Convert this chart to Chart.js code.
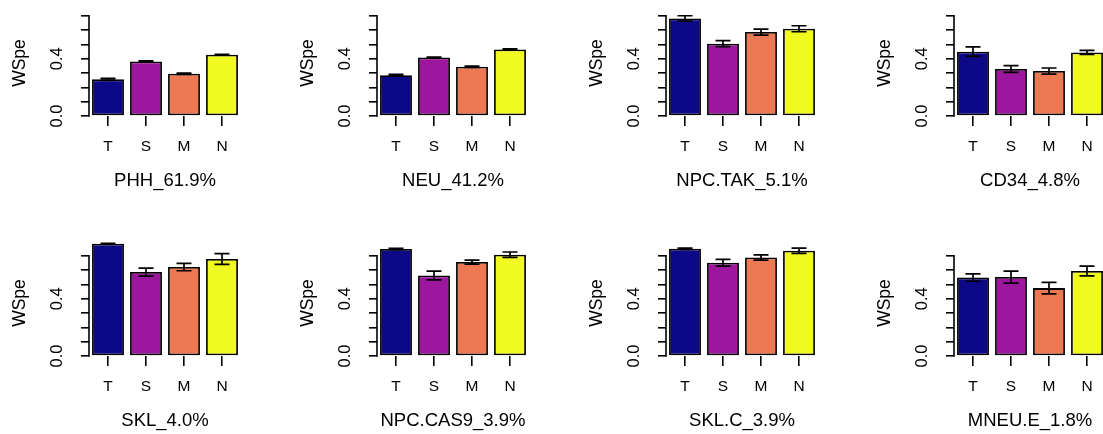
<!DOCTYPE html>
<html lang="en">
<head>
<meta charset="UTF-8">
<title>WSpe by cell type</title>
<style>
  body {
    margin: 0;
    background: #fff;
    width: 1103px;
    height: 434px;
    overflow: hidden;
    position: relative;
  }
  canvas.panel {
    position: absolute;
  }
</style>
</head>
<body>
<script src="https://cdn.jsdelivr.net/npm/chart.js"></script>
<script>
const groups = ['T', 'S', 'M', 'N'];
const groupColors = ['#0D0887', '#9C179E', '#ED7953', '#F0F921'];
const panelTitles = ['PHH_61.9%', 'NEU_41.2%', 'NPC.TAK_5.1%', 'CD34_4.8%',
                     'SKL_4.0%', 'NPC.CAS9_3.9%', 'SKL.C_3.9%', 'MNEU.E_1.8%'];

// mean WSpe per group, one row per panel
const wspe = [
  [0.256, 0.381, 0.295, 0.428],
  [0.284, 0.409, 0.344, 0.465],
  [0.681, 0.505, 0.586, 0.609],
  [0.449, 0.328, 0.314, 0.444],
  [0.784, 0.586, 0.621, 0.677],
  [0.747, 0.562, 0.656, 0.707],
  [0.749, 0.651, 0.688, 0.735],
  [0.548, 0.551, 0.474, 0.593]
];
// standard error for each bar
const wspeErr = [
  [0.007, 0.004, 0.004, 0.003],
  [0.006, 0.003, 0.005, 0.004],
  [0.019, 0.021, 0.021, 0.021],
  [0.033, 0.023, 0.021, 0.014],
  [0.003, 0.028, 0.026, 0.037],
  [0.004, 0.031, 0.014, 0.019],
  [0.005, 0.024, 0.018, 0.018],
  [0.026, 0.042, 0.040, 0.034]
];

const yTicks = [0, 0.1, 0.2, 0.3, 0.4, 0.5, 0.6, 0.7];
const yTickLabels = ['0.0', '', '', '', '0.4', '', '', ''];

const FONT = '"Liberation Sans", Arial, Helvetica, sans-serif';
const INK = '#000';

// y axis line (only over the tick range) and error bars
const axisAndErrors = {
  id: 'axisAndErrors',
  afterDatasetsDraw(chart, args, opts) {
    const ctx = chart.ctx;
    const y = chart.scales.y;
    const x0 = chart.chartArea.left;
    ctx.save();
    ctx.strokeStyle = INK;
    ctx.lineWidth = 1.6;
    ctx.beginPath();
    ctx.moveTo(x0, y.getPixelForValue(yTicks[0]) + 0.8);
    ctx.lineTo(x0, y.getPixelForValue(yTicks[yTicks.length - 1]) - 0.8);
    ctx.stroke();

    const vals = chart.data.datasets[0].data;
    ctx.lineWidth = 1.7;
    chart.getDatasetMeta(0).data.forEach((bar, i) => {
      const hi = y.getPixelForValue(vals[i] + opts.errors[i]);
      const lo = y.getPixelForValue(vals[i] - opts.errors[i]);
      const cap = 7.5;
      ctx.beginPath();
      ctx.moveTo(bar.x, hi);
      ctx.lineTo(bar.x, lo);
      ctx.moveTo(bar.x - cap, hi);
      ctx.lineTo(bar.x + cap, hi);
      ctx.moveTo(bar.x - cap, lo);
      ctx.lineTo(bar.x + cap, lo);
      ctx.stroke();
    });
    ctx.restore();
  }
};

// keep the plot box fixed: no extra room for tick labels
function noLabelPadding(scale) {
  scale.paddingTop = 0;
  scale.paddingBottom = 0;
  scale.paddingLeft = 0;
  scale.paddingRight = 0;
}

panelTitles.forEach((title, i) => {
  const col = i % 4;
  const row = Math.floor(i / 4);
  const canvas = document.createElement('canvas');
  canvas.className = 'panel';
  canvas.width = 288;
  canvas.height = 240;
  canvas.style.left = Math.round(col * 288.3) + 'px';
  canvas.style.top = (row * 240) + 'px';
  document.body.appendChild(canvas);

  new Chart(canvas, {
    type: 'bar',
    data: {
      labels: groups,
      datasets: [{
        data: wspe[i],
        backgroundColor: groupColors,
        borderColor: INK,
        borderWidth: 1.8,
        borderSkipped: false,
        barPercentage: 0.84,
        categoryPercentage: 1,
        clip: false
      }]
    },
    options: {
      responsive: false,
      animation: false,
      layout: { padding: { left: 0, right: 47, top: 10, bottom: 0 } },
      plugins: {
        legend: { display: false },
        tooltip: { enabled: false },
        axisAndErrors: { errors: wspeErr[i] }
      },
      scales: {
        x: {
          grid: { offset: false, drawOnChartArea: false, tickLength: 10, color: INK, lineWidth: 1.6 },
          border: { display: false },
          ticks: { color: INK, padding: 11, font: { family: FONT, size: 15.5 } },
          title: {
            display: true,
            text: title,
            color: INK,
            font: { family: FONT, size: 18.5 },
            padding: { top: 0, bottom: 48 }
          },
          afterFit(scale) {
            scale.height = 124;
            noLabelPadding(scale);
          }
        },
        y: {
          min: 0,
          max: 0.74,
          afterBuildTicks(scale) { scale.ticks = yTicks.map(v => ({ value: v })); },
          grid: { drawOnChartArea: false, tickLength: 8, color: INK, lineWidth: 1.6 },
          border: { display: false },
          ticks: {
            autoSkip: false,
            minRotation: 90,
            maxRotation: 90,
            crossAlign: 'center',
            padding: 12,
            color: INK,
            font: { family: FONT, size: 16.5 },
            callback: (v, idx) => yTickLabels[idx]
          },
          title: {
            display: true,
            text: 'WSpe',
            color: INK,
            font: { family: FONT, size: 17.5 },
            padding: { top: 9.5, bottom: 0 }
          },
          afterFit(scale) {
            scale.width = 89;
            noLabelPadding(scale);
          }
        }
      }
    },
    plugins: [axisAndErrors]
  });
});
</script>
</body>
</html>
